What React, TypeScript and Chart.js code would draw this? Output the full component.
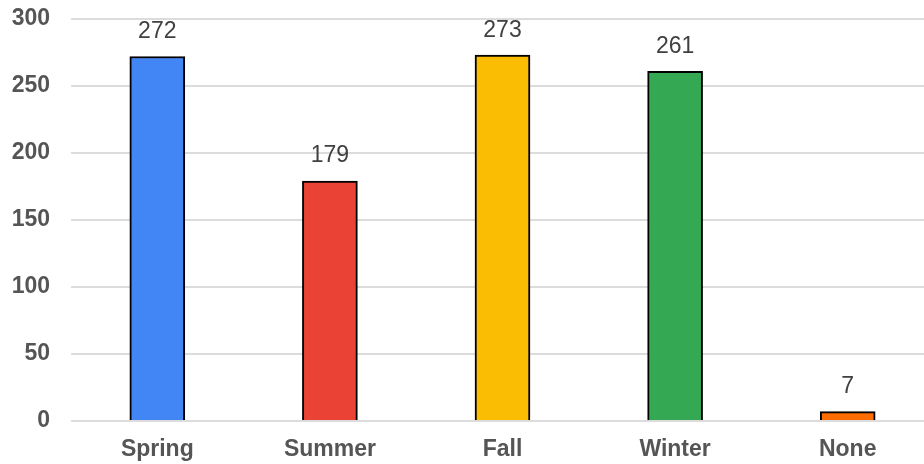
import React, { useEffect, useRef } from "react";
import { Chart, registerables } from "chart.js";

Chart.register(...registerables);

const categories = ["Spring", "Summer", "Fall", "Winter", "None"];
const values = [272, 179, 273, 261, 7];
const barColors = ["#4285F4", "#EA4335", "#FBBC04", "#34A853", "#FF6D01"];
const yTicks = [0, 50, 100, 150, 200, 250, 300];

const FONT = 'Arial, "Liberation Sans", sans-serif';

const valueLabels = {
  id: "valueLabels",
  afterDatasetsDraw(chart: any) {
    const ctx = chart.ctx;
    const meta = chart.getDatasetMeta(0);
    ctx.save();
    ctx.font = `23px ${FONT}`;
    ctx.fillStyle = "#404040";
    ctx.textAlign = "center";
    ctx.textBaseline = "middle";
    meta.data.forEach((bar: any, i: number) => {
      ctx.fillText(String(values[i]), bar.x, bar.y - 25);
    });
    ctx.restore();
  },
};

export default function App() {
  const ref = useRef<HTMLCanvasElement | null>(null);
  useEffect(() => {
    if (!ref.current) return;
    const chart = new Chart(ref.current, {
      type: "bar",
      data: {
        labels: categories,
        datasets: [
          {
            data: values,
            backgroundColor: barColors,
            borderColor: "#000000",
            borderWidth: 2,
            barThickness: 55,
          },
        ],
      },
      options: {
        responsive: false,
        animation: false,
        devicePixelRatio: 1,
        layout: { padding: 0 },
        plugins: { legend: { display: false }, tooltip: { enabled: false } },
        scales: {
          x: {
            grid: { display: false },
            border: { display: false },
            ticks: {
              color: "#555555",
              font: { family: FONT, size: 23, weight: "bold" },
              padding: 7,
            },
            afterFit(scale: any) {
              scale.height = 43;
              scale.paddingLeft = 0;
              scale.paddingRight = 0;
            },
          },
          y: {
            min: 0,
            max: 300,
            afterBuildTicks(scale: any) {
              scale.ticks = yTicks.map((v) => ({ value: v }));
            },
            grid: { color: "#dcdcdc", lineWidth: 2, drawTicks: false },
            border: { display: false },
            ticks: {
              color: "#555555",
              font: { family: FONT, size: 23, weight: "bold" },
              padding: 21,
            },
            afterFit(scale: any) {
              scale.width = 71;
              scale.paddingTop = 19;
              scale.paddingBottom = 0;
            },
          },
        },
      },
      plugins: [valueLabels],
    });
    return () => chart.destroy();
  }, []);
  return (
    <div style={{ position: "fixed", left: 0, top: 0, width: 924, height: 464, overflow: "hidden", background: "#fff" }}>
      <canvas ref={ref} width={934} height={464} style={{ display: "block" }} />
    </div>
  );
}
